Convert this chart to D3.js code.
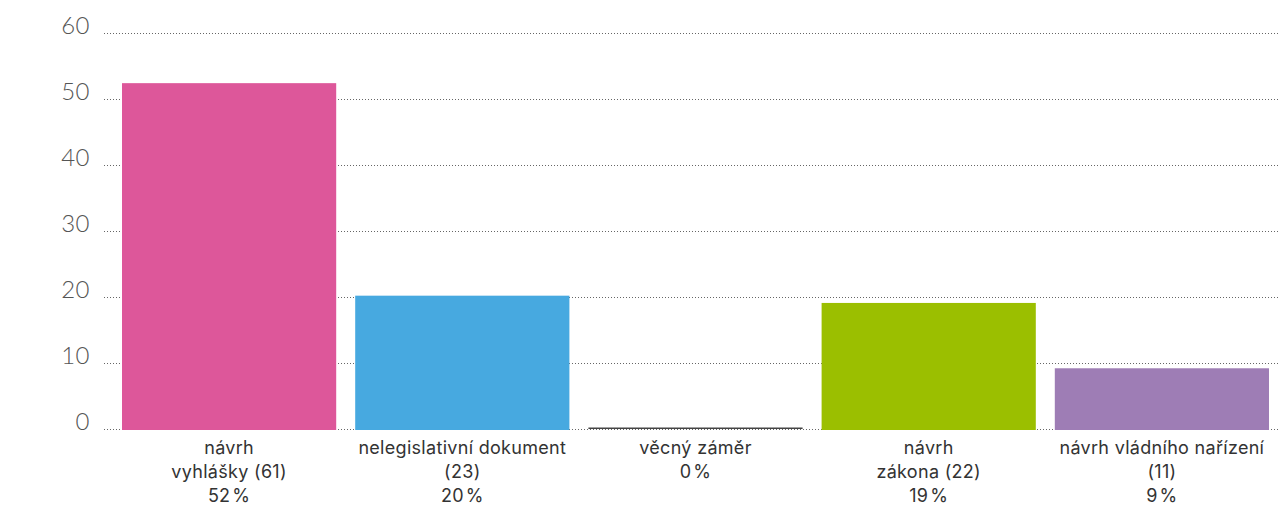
<!DOCTYPE html>
<html><head><meta charset="utf-8">
<script src="https://cdn.jsdelivr.net/npm/d3@7"></script>
<style>
html,body{margin:0;padding:0;background:#fff;}
svg{display:block;}
</style></head>
<body>
<svg id="chart" width="1278" height="514"></svg>
<script>
const categories = ["návrh vyhlášky", "nelegislativní dokument", "věcný záměr", "návrh zákona", "návrh vládního nařízení"];
const labelLines = [
  ["návrh", "vyhlášky (61)", "52\u200A%"],
  ["nelegislativní dokument", "(23)", "20\u200A%"],
  ["věcný záměr", "0\u200A%"],
  ["návrh", "zákona (22)", "19\u200A%"],
  ["návrh vládního nařízení", "(11)", "9\u200A%"]
];
const values = [52.4, 20.2, 0, 19.1, 9.2];
const colors = ["#dd579a", "#47a9e0", "#444444", "#9bbf00", "#9e7db5"];
const yTicks = [0, 10, 20, 30, 40, 50, 60];

const svg = d3.select("#chart");
const x = d3.scaleBand().domain(categories).range([103, 1288]).paddingInner(0.0815).paddingOuter(0.0815);
const y = d3.scaleLinear().domain([0, 60]).range([429, 33]);

// gridlines
svg.append("g").selectAll("line").data(yTicks).join("line")
  .attr("x1", 104).attr("x2", 1278)
  .attr("y1", d => Math.round(y(d)) + 0.5).attr("y2", d => Math.round(y(d)) + 0.5)
  .attr("stroke", "#666").attr("stroke-width", 1).attr("stroke-dasharray", "1,2");

// y tick labels
svg.append("g").selectAll("text").data(yTicks).join("text")
  .attr("x", 90).attr("y", d => y(d) + 1)
  .attr("text-anchor", "end")
  .attr("font-family", "Lato, 'Open Sans', sans-serif")
  .attr("font-weight", 300)
  .attr("font-size", 24)
  .attr("letter-spacing", 0.5)
  .attr("fill", "#555")
  .text(d => d);

// bars
svg.append("g").selectAll("rect").data(categories).join("rect")
  .attr("x", d => x(d))
  .attr("width", x.bandwidth())
  .attr("y", (d, i) => values[i] > 0 ? y(values[i]) : y(0) - 1.5)
  .attr("height", (d, i) => values[i] > 0 ? y(0) - y(values[i]) + 1 : 1.5)
  .attr("fill", (d, i) => colors[i]);

// category labels
const lab = svg.append("g").selectAll("text").data(categories).join("text")
  .attr("x", d => x(d) + x.bandwidth() / 2)
  .attr("y", 454)
  .attr("text-anchor", "middle")
  .attr("font-family", "Inter, 'Open Sans', sans-serif")
  .attr("font-size", 18)
  .attr("letter-spacing", 0.3)
  .attr("fill", "#333");
lab.each(function(d, i) {
  const t = d3.select(this);
  labelLines[i].forEach((ln, j) => {
    t.append("tspan").attr("x", x(d) + x.bandwidth() / 2).attr("dy", j === 0 ? 0 : 24).text(ln);
  });
});
</script>
</body></html>
